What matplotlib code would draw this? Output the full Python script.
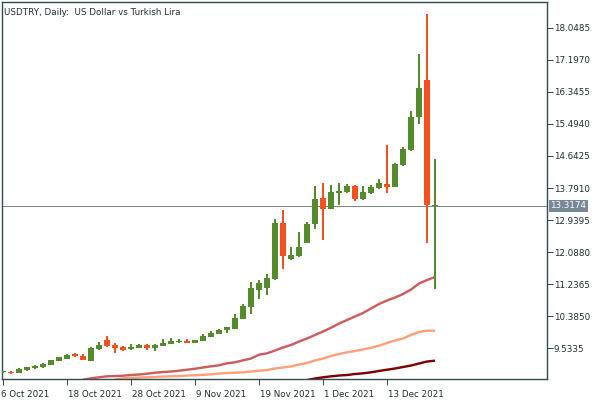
import numpy as np
import pandas as pd
import matplotlib
matplotlib.use("Agg")
import matplotlib.pyplot as plt
from matplotlib.transforms import blended_transform_factory, offset_copy

# Daily bars, 6 Oct 2021 .. 21 Dec 2021 (weekdays)
dates = pd.bdate_range("2021-10-06", "2021-12-21")

opens = [8.882, 8.895, 8.876, 8.948, 9.001, 9.036, 9.089, 9.196, 9.249, 9.366,
         9.321, 9.196, 9.515, 9.746, 9.625, 9.560, 9.499, 9.542, 9.613, 9.534,
         9.587, 9.648, 9.701, 9.728, 9.675, 9.728, 9.834, 9.914, 10.013, 10.039,
         10.305, 10.633, 11.085, 11.138, 11.362, 12.868, 11.902, 11.990, 12.336, 12.841,
         13.525, 13.240, 13.666, 13.685, 13.844, 13.506, 13.666, 13.799, 13.905, 13.826,
         14.411, 14.802, 15.670, 16.665, 13.300]
highs = [8.895, 8.922, 9.001, 9.036, 9.081, 9.142, 9.220, 9.300, 9.382, 9.409,
         9.374, 9.552, 9.693, 9.853, 9.655, 9.587, 9.648, 9.648, 9.648, 9.640,
         9.773, 9.800, 9.773, 9.773, 9.750, 9.906, 9.986, 10.039, 10.100, 10.438,
         10.704, 11.290, 11.343, 11.503, 12.958, 13.206, 12.213, 12.620, 12.886, 13.844,
         13.924, 13.871, 13.924, 13.897, 13.871, 13.844, 13.871, 14.031, 14.935, 14.464,
         14.882, 15.840, 17.357, 18.421, 14.555]
lows = [8.878, 8.850, 8.870, 8.930, 8.983, 9.009, 9.085, 9.190, 9.245, 9.286,
        9.218, 9.190, 9.488, 9.550, 9.409, 9.462, 9.488, 9.540, 9.480, 9.462,
        9.585, 9.645, 9.667, 9.670, 9.670, 9.720, 9.830, 9.910, 9.933, 10.030,
        10.300, 10.438, 10.829, 10.944, 11.343, 11.636, 11.880, 11.963, 12.330, 12.708,
        12.407, 13.230, 13.347, 13.658, 13.453, 13.480, 13.639, 13.772, 13.666, 13.820,
        14.384, 14.783, 15.502, 12.320, 11.096]
closes = [8.890, 8.868, 8.967, 9.020, 9.055, 9.116, 9.214, 9.294, 9.347, 9.321,
          9.222, 9.534, 9.613, 9.587, 9.542, 9.488, 9.568, 9.621, 9.534, 9.613,
          9.667, 9.728, 9.720, 9.675, 9.746, 9.853, 9.933, 10.021, 10.092, 10.332,
          10.651, 11.130, 11.255, 11.404, 12.868, 11.982, 12.000, 12.213, 12.833, 13.490,
          13.240, 13.685, 13.703, 13.844, 13.506, 13.685, 13.818, 13.924, 13.826, 14.430,
          14.829, 15.680, 16.452, 13.339, 13.3174]

# moving averages (only the part that is inside the chart window)
ma_red_start = "2021-10-20"
ma_red = [8.690, 8.727, 8.754, 8.780, 8.787, 8.796, 8.815, 8.828, 8.850, 8.876,
          8.895, 8.908, 8.930, 8.956, 8.983, 9.015, 9.046, 9.073, 9.126, 9.153,
          9.206, 9.254, 9.355, 9.392, 9.467, 9.547, 9.613, 9.706, 9.786, 9.880,
          9.973, 10.073, 10.185, 10.278, 10.372, 10.465, 10.585, 10.704, 10.797, 10.877,
          10.970, 11.090, 11.250, 11.343, 11.423]
ma_salmon_start = "2021-10-26"
ma_salmon = [8.695, 8.727, 8.735, 8.748, 8.754, 8.762, 8.775, 8.780, 8.788, 8.801,
             8.807, 8.820, 8.833, 8.855, 8.868, 8.876, 8.887, 8.908, 8.927, 8.948,
             8.988, 9.015, 9.041, 9.094, 9.134, 9.201, 9.254, 9.321, 9.374, 9.419,
             9.454, 9.494, 9.542, 9.595, 9.667, 9.733, 9.786, 9.880, 9.960, 9.994,
             9.994]
ma_maroon_start = "2021-11-29"
ma_maroon = [8.680, 8.722, 8.754, 8.780, 8.802, 8.815, 8.842, 8.860, 8.887, 8.922,
             8.956, 8.988, 9.028, 9.068, 9.121, 9.174, 9.196]

last_price = 13.3174
ytick_vals = [18.0485, 17.1970, 16.3455, 15.4940, 14.6425, 13.7910,
              12.9395, 12.0880, 11.2365, 10.3850, 9.5335]
xtick_dates = ["2021-10-06", "2021-10-18", "2021-10-28", "2021-11-09",
               "2021-11-19", "2021-12-01", "2021-12-13"]
xtick_labels = ["6 Oct 2021", "18 Oct 2021", "28 Oct 2021", "9 Nov 2021",
                "19 Nov 2021", "1 Dec 2021", "13 Dec 2021"]
title = "USDTRY, Daily:  US Dollar vs Turkish Lira"

col_up = "#558b2f"
col_dn = "#f4511e"
col_txt = "#1f2f2f"
col_frame = "#2f4f4f"

plt.rcParams["font.family"] = "DejaVu Sans"
fig = plt.figure(figsize=(6, 4), dpi=100)
ax = fig.add_axes([2 / 600, 21 / 400, 545 / 600, 377 / 400])

idx = np.arange(len(dates))
px = 0.72  # one pixel in points

def pos(d):
    return dates.get_loc(pd.Timestamp(d))

# moving averages
for start, vals, c in [(ma_maroon_start, ma_maroon, "#800000"),
                       (ma_salmon_start, ma_salmon, "#ffa07a"),
                       (ma_red_start, ma_red, "#cd5c5c")]:
    s = pos(start)
    ax.plot(idx[s:s + len(vals)], vals, color=c, lw=2.4 * px, solid_capstyle="butt", zorder=2)

# price line
ax.axhline(last_price, color="#778899", lw=px, zorder=1)

# candles
for i, (o, h, l, c) in enumerate(zip(opens, highs, lows, closes)):
    colr = col_up if c >= o else col_dn
    ax.vlines(i, l, h, color=colr, lw=1.6 * px, antialiased=False, zorder=3)
    body = max(abs(c - o), 0.03)
    ax.bar(i, body, bottom=min(o, c), width=0.68, color=colr, lw=0,
           antialiased=False, zorder=4)

ax.set_xlim(-0.125, 68)
ax.set_ylim(8.709, 18.740)

for sp in ax.spines.values():
    sp.set_color(col_frame)
    sp.set_linewidth(1.4 * px)

# y axis on the right
ax.yaxis.tick_right()
ax.set_yticks(ytick_vals)
ax.set_yticklabels([f"{v:.4f}" for v in ytick_vals])
ax.tick_params(axis="y", direction="out", length=4, width=px, colors=col_frame,
               labelcolor=col_txt, labelsize=6.3, pad=1)

# x axis: tick marks, labels left aligned to the right of the mark
xt = [pos(d) for d in xtick_dates]
ax.set_xticks(xt)
ax.set_xticklabels([])
ax.tick_params(axis="x", direction="out", length=4, width=px, colors=col_frame)
trans = blended_transform_factory(ax.transData, ax.transAxes)
for k, (x, lab) in enumerate(zip(xt, xtick_labels)):
    dx = -2 if k == 0 else 1
    t = offset_copy(trans, fig=fig, x=dx * 0.72, y=-8, units="points")
    ax.text(x, 0, lab, transform=t, ha="left", va="top", fontsize=6.3,
            color=col_txt, clip_on=False)

# last price tag
tag_t = offset_copy(blended_transform_factory(ax.transAxes, ax.transData),
                    fig=fig, x=3.5 * 0.72, y=0, units="points")
ax.text(1.0, last_price, f"{last_price:.4f}", transform=tag_t, ha="left", va="center",
        fontsize=6.3, color="white", clip_on=False,
        bbox=dict(boxstyle="square,pad=0.2", fc="#778899", ec="none"))

ax.text(0.004, 0.985, title, transform=ax.transAxes, ha="left", va="top",
        fontsize=6.3, color=col_txt)

fig.savefig("out.png", dpi=100)
